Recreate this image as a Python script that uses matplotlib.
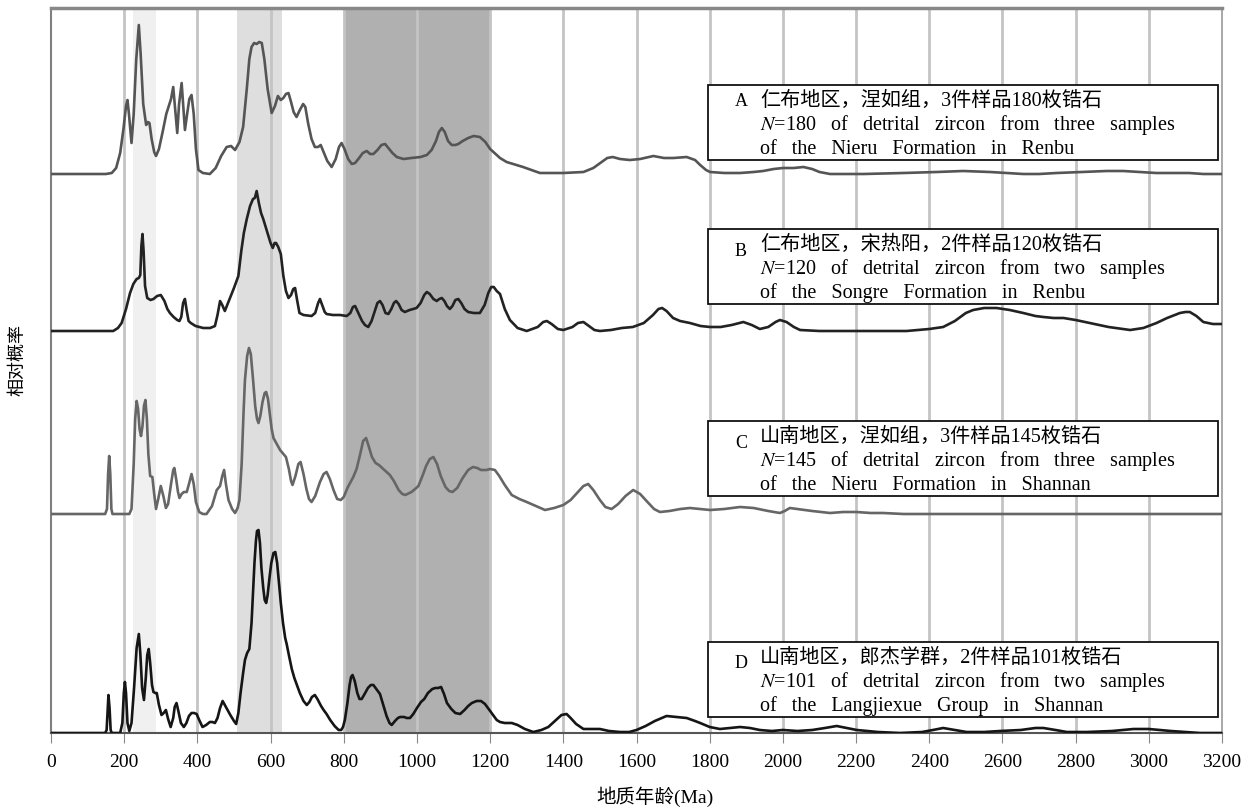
import matplotlib
matplotlib.use("Agg")
import matplotlib.pyplot as plt
from matplotlib.patches import Rectangle

plt.rcParams['font.family'] = ['Liberation Serif', 'Noto Sans CJK SC']
plt.rcParams['mathtext.fontset'] = 'stix'

# ---- data: (age in Ma, relative probability above the curve's own baseline) ----
curve_a = [(0, 0), (150, 0), (166, 1), (178, 6), (189, 21), (198, 45), (205, 68), (209, 74),
           (213, 60), (220, 31), (226, 60), (233, 115), (240, 149), (245, 120), (252, 70),
           (260, 49), (265, 52), (269, 51), (275, 35), (282, 22), (287, 18), (295, 25),
           (305, 42), (315, 60), (321, 67), (328, 75), (334, 87), (340, 62), (345, 41),
           (350, 70), (357, 91), (361, 70), (366, 44), (372, 60), (378, 75), (384, 79),
           (390, 60), (396, 25), (403, 4), (415, 1), (434, 0), (450, 6), (465, 18), (480, 27),
           (492, 28), (503, 24), (515, 32), (525, 47), (535, 85), (542, 115), (548, 127),
           (555, 131), (562, 130), (569, 132), (576, 131), (583, 115), (592, 85), (603, 61),
           (612, 68), (620, 78), (628, 74), (635, 76), (642, 80), (649, 81), (656, 72),
           (663, 62), (671, 57), (680, 64), (689, 70), (695, 67), (703, 50), (712, 35),
           (721, 27), (730, 27), (737, 29), (745, 22), (755, 13), (767, 7), (778, 15),
           (787, 27), (794, 31), (802, 25), (812, 15), (822, 10), (831, 11), (842, 16),
           (852, 21), (863, 23), (872, 20), (881, 20), (892, 24), (903, 29), (913, 30),
           (922, 26), (933, 21), (945, 17), (963, 15), (985, 16), (1010, 17), (1027, 19),
           (1040, 24), (1052, 33), (1060, 42), (1068, 46), (1076, 42), (1085, 33), (1095, 29),
           (1105, 29), (1113, 30), (1125, 33), (1140, 36), (1155, 38), (1172, 37), (1187, 32),
           (1200, 25), (1215, 20), (1227, 16), (1245, 12), (1263, 10), (1290, 7), (1336, 1),
           (1400, 1), (1455, 2), (1482, 6), (1505, 12), (1520, 16), (1535, 17), (1555, 15),
           (1582, 14), (1610, 15), (1646, 18), (1675, 16), (1701, 16), (1737, 17), (1760, 14),
           (1774, 9), (1790, 4), (1801, 2), (1840, 1), (1883, 1), (1920, 2), (1946, 3),
           (1975, 5), (2000, 6), (2030, 6), (2056, 7), (2080, 5), (2100, 2), (2129, 0),
           (2220, 0), (2329, 1), (2420, 2), (2493, 3), (2566, 2), (2610, 1), (2657, 0),
           (2700, 0), (2748, 1), (2820, 2), (2885, 3), (2930, 3), (2976, 2), (3020, 1),
           (3067, 1), (3110, 1), (3149, 0), (3200, 0)]

curve_b = [(0, 0), (170, 0), (183, 3), (193, 8), (205, 22), (216, 38), (225, 47), (234, 52),
           (240, 53), (244, 56), (247, 85), (250, 97), (253, 80), (257, 45), (263, 33),
           (272, 31), (280, 32), (290, 35), (300, 36), (310, 30), (318, 22), (325, 18),
           (335, 14), (345, 11), (351, 10), (356, 14), (361, 28), (366, 32), (371, 20),
           (376, 10), (382, 8), (395, 5), (416, 3), (435, 3), (448, 5), (455, 16), (462, 30),
           (468, 26), (475, 20), (488, 32), (500, 43), (512, 55), (520, 80), (527, 98),
           (535, 112), (544, 125), (552, 132), (557, 133), (562, 140), (568, 128), (574, 118),
           (580, 112), (590, 100), (600, 88), (606, 83), (611, 88), (615, 88), (621, 84),
           (628, 77), (635, 55), (642, 40), (649, 33), (656, 36), (662, 42), (667, 43),
           (672, 32), (679, 18), (690, 16), (712, 15), (722, 18), (730, 28), (735, 32),
           (741, 26), (748, 19), (753, 17), (770, 16), (790, 16), (808, 15), (818, 18),
           (825, 24), (831, 25), (840, 18), (850, 10), (858, 6), (867, 4), (876, 10), (885, 20),
           (892, 28), (899, 30), (906, 26), (914, 18), (922, 17), (930, 22), (937, 28),
           (943, 30), (950, 27), (958, 21), (967, 19), (980, 21), (990, 22), (999, 23),
           (1010, 28), (1020, 36), (1027, 39), (1035, 37), (1045, 32), (1054, 30), (1061, 32),
           (1068, 33), (1075, 30), (1082, 25), (1090, 22), (1097, 25), (1105, 31), (1113, 32),
           (1121, 28), (1130, 22), (1140, 19), (1155, 18), (1172, 18), (1185, 26), (1195, 38),
           (1203, 44), (1210, 44), (1218, 40), (1227, 37), (1240, 22), (1254, 11), (1275, 3),
           (1300, 0), (1330, 4), (1345, 9), (1355, 10), (1368, 7), (1385, 2), (1400, 1),
           (1425, 4), (1440, 8), (1455, 9), (1470, 5), (1485, 1), (1500, 0), (1530, 1),
           (1560, 3), (1590, 4), (1620, 8), (1645, 16), (1660, 22), (1670, 23), (1682, 20),
           (1700, 13), (1719, 10), (1746, 8), (1775, 5), (1801, 4), (1830, 4), (1860, 6),
           (1892, 9), (1915, 6), (1937, 2), (1960, 4), (1980, 9), (1992, 11), (2010, 9),
           (2030, 4), (2047, 1), (2100, 0), (2156, 0), (2250, 0), (2338, 0), (2400, 2),
           (2438, 4), (2470, 10), (2500, 18), (2520, 21), (2550, 23), (2584, 23), (2620, 21),
           (2657, 18), (2690, 15), (2712, 14), (2740, 13), (2767, 13), (2800, 11), (2839, 8),
           (2890, 4), (2949, 1), (2985, 3), (3021, 8), (3050, 13), (3085, 18), (3100, 19),
           (3112, 19), (3130, 15), (3149, 9), (3175, 7), (3200, 7)]

curve_c = [(0, 0), (148, 0), (153, 5), (156, 40), (159, 58), (162, 40), (165, 5), (168, 0),
           (214, 0), (220, 5), (226, 50), (230, 95), (234, 113), (238, 105), (242, 85),
           (246, 78), (250, 88), (254, 108), (258, 114), (262, 95), (266, 60), (271, 38),
           (277, 37), (282, 20), (287, 5), (293, 15), (300, 28), (307, 18), (314, 6), (320, 10),
           (328, 30), (334, 44), (337, 46), (342, 35), (347, 22), (351, 16), (357, 20),
           (363, 22), (371, 22), (377, 30), (384, 40), (390, 30), (396, 12), (405, 2), (415, 0),
           (425, 0), (440, 8), (453, 24), (462, 28), (468, 38), (473, 44), (478, 30), (485, 14),
           (495, 5), (503, 1), (510, 6), (515, 14), (521, 50), (526, 100), (530, 134),
           (536, 158), (541, 166), (546, 160), (552, 135), (558, 108), (563, 95), (567, 91),
           (572, 98), (578, 112), (584, 121), (588, 122), (593, 115), (598, 100), (603, 85),
           (608, 76), (617, 70), (626, 64), (635, 60), (642, 57), (650, 45), (656, 33),
           (660, 29), (668, 38), (676, 50), (682, 52), (690, 40), (698, 25), (705, 15),
           (712, 12), (722, 18), (735, 32), (745, 40), (753, 42), (762, 35), (772, 24),
           (782, 15), (792, 14), (800, 17), (810, 26), (820, 33), (826, 37), (835, 45),
           (845, 60), (853, 73), (861, 76), (868, 68), (877, 57), (887, 51), (896, 49),
           (905, 46), (914, 43), (926, 39), (937, 33), (950, 24), (960, 20), (968, 19),
           (985, 22), (995, 25), (1004, 28), (1015, 38), (1025, 48), (1035, 55), (1045, 57),
           (1055, 50), (1065, 38), (1078, 27), (1088, 23), (1097, 22), (1110, 26), (1125, 36),
           (1140, 44), (1153, 47), (1165, 46), (1175, 44), (1190, 44), (1200, 45), (1213, 44),
           (1225, 38), (1240, 29), (1259, 19), (1280, 15), (1300, 12), (1325, 8), (1350, 4),
           (1375, 6), (1400, 9), (1420, 14), (1440, 22), (1455, 28), (1468, 30), (1482, 24),
           (1500, 14), (1515, 7), (1532, 5), (1550, 10), (1570, 18), (1591, 24), (1610, 20),
           (1630, 12), (1648, 5), (1664, 2), (1690, 3), (1720, 5), (1746, 6), (1775, 5),
           (1801, 4), (1840, 5), (1883, 7), (1920, 6), (1960, 3), (1992, 1), (2005, 3),
           (2019, 6), (2040, 5), (2080, 3), (2129, 1), (2165, 2), (2201, 2), (2240, 1),
           (2274, 1), (2330, 0), (2400, 0), (3200, 0)]

curve_d = [(0, 0), (148, 0), (152, 3), (155, 25), (157, 38), (160, 25), (163, 3), (166, 0),
           (189, 0), (195, 10), (199, 40), (202, 51), (205, 40), (209, 10), (214, 2), (220, 10),
           (227, 45), (234, 85), (240, 99), (244, 80), (249, 45), (254, 33), (259, 55),
           (263, 78), (267, 84), (271, 70), (276, 48), (280, 41), (285, 40), (289, 40),
           (295, 28), (302, 18), (308, 20), (314, 23), (320, 14), (327, 6), (334, 15), (338, 26),
           (343, 30), (348, 22), (355, 10), (363, 6), (370, 10), (377, 17), (384, 20), (391, 20),
           (398, 19), (405, 13), (414, 6), (424, 8), (434, 11), (441, 11), (448, 10), (455, 15),
           (462, 25), (469, 32), (478, 26), (490, 18), (500, 12), (506, 9), (512, 20), (518, 40),
           (525, 60), (530, 73), (536, 80), (542, 84), (548, 110), (552, 140), (556, 170),
           (560, 192), (563, 202), (567, 203), (571, 190), (575, 165), (580, 145), (584, 133),
           (588, 130), (592, 138), (597, 155), (602, 170), (608, 180), (613, 181), (618, 170),
           (623, 150), (628, 130), (634, 110), (640, 95), (644, 89), (650, 78), (658, 64),
           (665, 55), (671, 49), (680, 40), (690, 32), (699, 28), (706, 31), (713, 36),
           (721, 38), (728, 34), (738, 27), (745, 23), (753, 19), (763, 13), (775, 7), (786, 3),
           (793, 3), (798, 6), (803, 13), (810, 30), (816, 48), (820, 56), (824, 58), (830, 52),
           (837, 40), (843, 34), (849, 34), (857, 39), (866, 45), (874, 48), (881, 48),
           (889, 44), (899, 39), (908, 28), (917, 17), (925, 10), (931, 8), (940, 12), (948, 15),
           (954, 16), (965, 16), (972, 15), (981, 15), (990, 19), (1000, 25), (1011, 31),
           (1020, 34), (1030, 40), (1042, 44), (1050, 45), (1058, 45), (1066, 46), (1074, 39),
           (1082, 30), (1094, 24), (1105, 20), (1118, 19), (1130, 23), (1140, 27), (1150, 30),
           (1163, 32), (1175, 32), (1186, 29), (1196, 24), (1208, 18), (1218, 13), (1227, 11),
           (1240, 10), (1259, 10), (1275, 8), (1295, 4), (1318, 1), (1340, 3), (1359, 6),
           (1380, 13), (1395, 18), (1409, 19), (1420, 15), (1435, 9), (1455, 4), (1478, 4),
           (1500, 4), (1525, 2), (1555, 1), (1580, 1), (1600, 3), (1625, 7), (1650, 12),
           (1682, 17), (1710, 16), (1737, 15), (1760, 12), (1774, 10), (1800, 6), (1828, 4),
           (1855, 5), (1883, 6), (1910, 5), (1937, 3), (1970, 2), (2000, 3), (2040, 2),
           (2080, 3), (2115, 5), (2147, 7), (2175, 5), (2202, 3), (2260, 1), (2320, 0),
           (2380, 1), (2410, 3), (2438, 5), (2470, 3), (2502, 1), (2550, 1), (2593, 2),
           (2650, 3), (2690, 5), (2712, 5), (2745, 3), (2776, 1), (2830, 1), (2900, 2),
           (2958, 4), (3000, 4), (3060, 2), (3100, 1), (3140, 0), (3200, 0)]

offsets = [559, 402, 219, 0]
colors = ['#555555', '#222222', '#666666', '#151515']

letters = ['A', 'B', 'C', 'D']
line1 = ['仁布地区，涅如组，3件样品180枚锆石',
         '仁布地区，宋热阳，2件样品120枚锆石',
         '山南地区，涅如组，3件样品145枚锆石',
         '山南地区，郎杰学群，2件样品101枚锆石']
line2 = [r'$N$=180   of   detrital   zircon   from   three   samples',
         r'$N$=120   of   detrital   zircon   from   two   samples',
         r'$N$=145   of   detrital   zircon   from   three   samples',
         r'$N$=101   of   detrital   zircon   from   two   samples']
line3 = ['of   the   Nieru   Formation   in   Renbu',
         'of   the   Songre   Formation   in   Renbu',
         'of   the   Nieru   Formation   in   Shannan',
         'of   the   Langjiexue   Group   in   Shannan']
box_bottom = [573, 429, 237, 16]

bands = [(225, 287, '#f0f0f0'), (509, 632, '#dedede'), (800, 1200, '#b0b0b0')]
xticks = list(range(0, 3201, 200))

fig = plt.figure(figsize=(12.57, 8.11), dpi=100)
ax = fig.add_axes([51/1257, 78/811, 1171/1257, 725/811])

for lo, hi, c in bands:
    ax.axvspan(lo, hi, color=c, lw=0, zorder=0)
for xv in xticks[1:-1]:
    ax.axvline(xv, color='#c4c4c4', lw=2, zorder=1)

curves = [curve_a, curve_b, curve_c, curve_d]
for pts, off, c in zip(curves, offsets, colors):
    xs = [p[0] for p in pts]
    ys = [p[1] + off for p in pts]
    ax.plot(xs, ys, color=c, lw=1.9, zorder=3, solid_joinstyle='round')

for i in range(4):
    b = box_bottom[i]
    ax.add_patch(Rectangle((1795, b), 1394, 75, facecolor='white', edgecolor='#111111',
                           lw=1.3, zorder=4))
    ax.text(1869, b + 59 if i == 0 else b + 53, letters[i], fontsize=13, va='center', zorder=5)
    ax.text(1937, b + 59, line1[i], fontsize=14.5, va='center', zorder=5)
    ax.text(1937, b + 35, line2[i], fontsize=14.5, va='center', zorder=5)
    ax.text(1937, b + 11, line3[i], fontsize=14.5, va='center', zorder=5)

ax.set_xlim(0, 3200)
ax.set_ylim(0, 725)
ax.set_xticks(xticks)
ax.set_xticklabels([str(t) for t in xticks], fontsize=14)
ax.set_yticks([])
ax.tick_params(axis='x', direction='out', length=7, color='#888888', pad=8)
ax.spines['left'].set_color('#808080')
ax.spines['left'].set_linewidth(1.5)
ax.spines['top'].set_color('#888888')
ax.spines['top'].set_linewidth(2.5)
ax.spines['right'].set_color('#999999')
ax.spines['right'].set_linewidth(1.2)
ax.spines['bottom'].set_color('#555555')
ax.spines['bottom'].set_linewidth(1.5)

fig.text(655/1257, 1 - 797/811, '地质年龄(Ma)', fontsize=14, ha='center', va='center')
fig.text(18/1257, 1 - 360/811, '相对概率', fontsize=13, rotation=90, ha='center', va='center')

fig.savefig('out.png', dpi=100, facecolor='white')
